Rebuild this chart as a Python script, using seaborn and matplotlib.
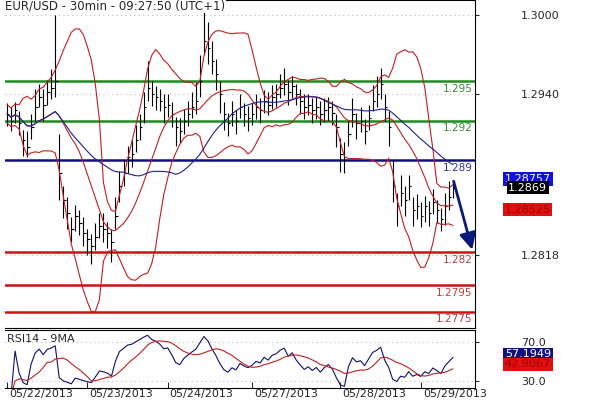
import numpy as np
import pandas as pd
import matplotlib
matplotlib.use("Agg")
import matplotlib.pyplot as plt
import seaborn as sns

# hourly-ish closes
closes = [1.2925, 1.2920, 1.2928, 1.2918, 1.2905, 1.2900, 1.2915,
          1.2930, 1.2938, 1.2932, 1.2942, 1.2945, 1.2950, 1.2880,
          1.2860, 1.2850, 1.2838, 1.2848, 1.2842, 1.2835, 1.2830, 1.2825, 1.2832,
          1.2840, 1.2838, 1.2835, 1.2828, 1.2848, 1.2870, 1.2880, 1.2892,
          1.2895, 1.2905, 1.2915, 1.2930, 1.2945, 1.2940,
          1.2938, 1.2935, 1.2930, 1.2932, 1.2925, 1.2915, 1.2912, 1.2920,
          1.2925, 1.2930, 1.2935, 1.2950, 1.2980, 1.2975, 1.2965, 1.2955,
          1.2940, 1.2925, 1.2918, 1.2925, 1.2920, 1.2930, 1.2925,
          1.2922, 1.2925, 1.2930, 1.2928, 1.2935, 1.2932, 1.2938, 1.2940,
          1.2945, 1.2948, 1.2942, 1.2946, 1.2940, 1.2935, 1.2930, 1.2932,
          1.2928, 1.2930, 1.2925, 1.2928, 1.2930, 1.2926,
          1.2915, 1.2895, 1.2890, 1.2910, 1.2925, 1.2918, 1.2920, 1.2912, 1.2922,
          1.2935, 1.2940, 1.2948, 1.2930, 1.2915, 1.2870,
          1.2855, 1.2865, 1.2860, 1.2870, 1.2852, 1.2855, 1.2848,
          1.2855, 1.2850, 1.2858, 1.2852, 1.2845, 1.2855, 1.2862, 1.2869]
# bar extension above / below the close, in pips
bar_up = [8, 10, 6, 9, 8, 12, 10, 14, 10, 12, 9, 14, 50, 30,
          10, 12, 9, 8, 10, 12, 8, 9, 10, 10, 12, 8, 10, 14, 12, 10, 9,
          10, 12, 10, 12, 20, 10, 8, 9, 10, 8, 9, 8, 10, 9, 10, 12, 14,
          20, 35, 20, 15, 12, 10, 9, 8, 10, 8, 10, 8, 9, 8, 10, 9, 8,
          10, 9, 8, 10, 12, 9, 8, 8, 9, 10, 8, 9, 8, 10, 9, 8, 9,
          10, 12, 14, 10, 12, 8, 10, 9, 10, 12, 14, 12, 10, 12, 20,
          10, 14, 10, 9, 10, 9, 10, 8, 9, 10, 8, 9, 10, 12, 6]
bar_dn = [9, 8, 10, 9, 12, 8, 9, 10, 8, 12, 10, 9, 12, 20,
          14, 12, 10, 12, 9, 10, 12, 14, 10, 9, 10, 12, 15, 10, 12, 10, 12,
          10, 9, 10, 12, 10, 9, 10, 8, 12, 9, 10, 14, 9, 10, 9, 8, 10,
          12, 10, 12, 10, 12, 14, 12, 10, 9, 10, 8, 9, 10, 8, 9, 10, 9,
          8, 9, 10, 8, 9, 10, 9, 8, 10, 9, 8, 10, 9, 8, 9, 10, 9,
          15, 14, 10, 9, 10, 12, 9, 10, 9, 8, 10, 12, 10, 14, 12,
          15, 10, 12, 10, 12, 10, 9, 12, 10, 9, 10, 9, 14, 10, 8, 9]

levels_green = [1.2950, 1.2920]
labels_green = ["1.295", "1.292"]
level_blue = 1.2890
levels_red = [1.2820, 1.2795, 1.2775]
labels_red = ["1.282", "1.2795", "1.2775"]
price_ticks = [1.3000, 1.2940, 1.2818]
date_idx = [0, 20, 40, 61, 83, 103]
date_labels = ["05/22/2013", "05/23/2013", "05/24/2013", "05/27/2013",
               "05/28/2013", "05/29/2013"]

sns.set_style("white")
plt.rcParams["font.family"] = ["DejaVu Sans"]

n = len(closes)
df = pd.DataFrame({"i": np.arange(n), "close": closes})
df["high"] = df["close"] + np.array(bar_up[:n]) * 1e-4
df["low"] = df["close"] - np.array(bar_dn[:n]) * 1e-4
sma = df["close"].rolling(12, min_periods=1).mean()
sd = df["close"].rolling(12, min_periods=2).std().bfill()
df["bb_mid"] = sma
df["bb_up"] = sma + 2 * sd
df["bb_lo"] = sma - 2 * sd
df["ma"] = df["close"].rolling(30, min_periods=1).mean()

delta = df["close"].diff().fillna(0)
gain = delta.clip(lower=0).ewm(alpha=1 / 7, adjust=False).mean()
loss = (-delta.clip(upper=0)).ewm(alpha=1 / 7, adjust=False).mean()
df["rsi"] = 100 - 100 / (1 + gain / loss.replace(0, 1e-9))
df["rsi"] = 50 + (df["rsi"] - 50) * 0.7
df["rsi_ma"] = df["rsi"].rolling(9, min_periods=1).mean()

fig = plt.figure(figsize=(5.9, 4.0), dpi=100)
ax = fig.add_axes([5 / 590, 1 - 328 / 400, 470 / 590, 328 / 400])
ax2 = fig.add_axes([5 / 590, 1 - 388 / 400, 470 / 590, 58 / 400])

xmin, xmax = -0.5, 116.5
for a in (ax, ax2):
    a.set_xlim(xmin, xmax)
    for s in a.spines.values():
        s.set_color("black")
        s.set_linewidth(0.8)
    a.spines["left"].set_visible(False)
    a.yaxis.tick_right()
    a.tick_params(axis="y", length=3, labelsize=8, pad=30)

ax.set_ylim(1.27627, 1.30114)
for y in price_ticks:
    ax.axhline(y, color="#bbbbbb", ls=(0, (1, 3)), lw=0.8, zorder=0)
ax.set_yticks(price_ticks)
ax.set_yticklabels(["%.4f" % v for v in price_ticks])
ax.set_xticks([])

for y, lab in zip(levels_green, labels_green):
    ax.axhline(y, color="#1e8c1e", lw=1.8, zorder=3)
    ax.text(115.8, y - 0.0002, lab, color="#3a8a3a", fontsize=7.5, ha="right", va="top")
ax.axhline(level_blue, color="#101080", lw=1.8, zorder=3)
ax.text(115.8, level_blue - 0.0002, "1.289", color="#3030a0", fontsize=7.5, ha="right", va="top")
for y, lab in zip(levels_red, labels_red):
    ax.axhline(y, color="#c81414", lw=1.8, zorder=3)
    ax.text(115.8, y - 0.0002, lab, color="#b04040", fontsize=7.5, ha="right", va="top")

ax.vlines(df["i"], df["low"], df["high"], color="black", lw=0.8, zorder=4)
ax.hlines(df["close"], df["i"], df["i"] + 0.6, color="black", lw=0.8, zorder=4)
for col in ["bb_up", "bb_mid", "bb_lo"]:
    sns.lineplot(data=df, x="i", y=col, ax=ax, color="#c02020", lw=0.8, zorder=5)
sns.lineplot(data=df, x="i", y="ma", ax=ax, color="#202090", lw=0.8, zorder=5)
ax.set_xlabel("")
ax.set_ylabel("")
ax.set_xlim(xmin, xmax)

ax.annotate("", xy=(116, 1.2820), xytext=(111, 1.2876),
            arrowprops=dict(arrowstyle="-|>,head_width=0.5,head_length=1.0",
                            color="#0a1a7a", lw=2), zorder=6)

ax.text(0.0, 1.2998 + 0.0009, "EUR/USD - 30min - 09:27:50 (UTC+1)", fontsize=8.5,
        ha="left", va="center", transform=ax.get_yaxis_transform(), zorder=7,
        bbox=dict(facecolor="white", edgecolor="none", pad=0.5))

def tag(a, y, text, fc, tc):
    a.annotate(text, xy=(1.0, y), xycoords=a.get_yaxis_transform(),
               xytext=(38, 0), textcoords="offset points", ha="center", va="center",
               fontsize=8, color=tc, annotation_clip=False,
               bbox=dict(boxstyle="square,pad=0.15", fc=fc, ec="none"))

tag(ax, 1.28757, "1.28757", "#1010e0", "white")
tag(ax, 1.2869, "1.2869", "black", "white")
tag(ax, 1.28525, "1.28525", "#e01010", "#a00000")

ax2.set_ylim(23, 82)
for y in [70, 30]:
    ax2.axhline(y, color="#bbbbbb", ls=(0, (1, 3)), lw=0.8, zorder=0)
ax2.set_yticks([70, 30])
ax2.set_yticklabels(["70.0", "30.0"])
sns.lineplot(data=df, x="i", y="rsi", ax=ax2, color="#101070", lw=0.8)
sns.lineplot(data=df, x="i", y="rsi_ma", ax=ax2, color="#c02020", lw=0.8)
ax2.set_xlabel("")
ax2.set_ylabel("")
ax2.set_xlim(xmin, xmax)
ax2.set_xticks(date_idx)
ax2.set_xticklabels([])
ax2.tick_params(axis="x", direction="in", length=4, bottom=True)
for d, lab in zip(date_idx, date_labels):
    ax2.text(d + 0.5, -0.02, lab, transform=ax2.get_xaxis_transform(), fontsize=8,
             ha="left", va="top", clip_on=False)
ax2.text(0.005, 0.93, "RSI14 - 9MA", transform=ax2.transAxes, fontsize=8,
         ha="left", va="top")
tag(ax2, 57.19, "57.1949", "#101080", "white")
tag(ax2, 47.0, "42.9067", "#e01010", "#a00000")

fig.savefig("out.png", dpi=100)
